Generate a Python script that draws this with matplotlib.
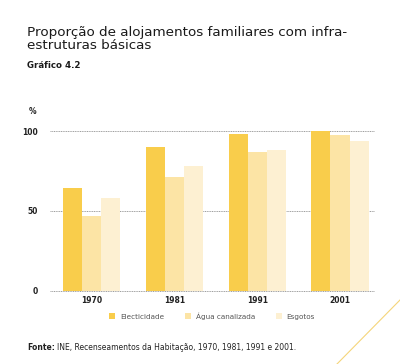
import numpy as np
import matplotlib.pyplot as plt
from matplotlib.lines import Line2D

years = ['1970', '1981', '1991', '2001']
series = ['Electicidade', 'Água canalizada', 'Esgotos']
electricidade = [64, 90, 98, 100]
agua = [47, 71, 87, 97.5]
esgotos = [58, 78, 88, 94]
colors = ['#F9CD4B', '#FCE4A5', '#FDF0D2']

fig = plt.figure(figsize=(4, 3.64), dpi=100)
ax = fig.add_axes([0.125, 0.2014, 0.81, 0.4387])

x = np.arange(len(years))
w = 0.23
handles = []
for i, (vals, c, lab) in enumerate(zip([electricidade, agua, esgotos], colors, series)):
    b = ax.bar(x + (i - 1) * w, vals, width=w, color=c, label=lab, zorder=2)
    handles.append(b)

ax.set_xlim(-0.5, 3.41)
ax.set_ylim(0, 100)
ax.set_yticks([0, 50, 100])
ax.set_xticks(x)
ax.set_xticklabels(years, fontsize=5.5, fontweight='bold', color='#222222')
ax.set_yticklabels(['0', '50', '100'], fontsize=5.5, fontweight='bold', color='#222222')
ax.tick_params(axis='y', length=0, pad=9)
ax.tick_params(axis='x', length=0, pad=4)
for s in ax.spines.values():
    s.set_visible(False)
for v in [0, 50, 100]:
    ax.axhline(v, color='#777777', linestyle=(0, (1.5, 1)), linewidth=0.5, zorder=1, clip_on=False)

fig.text(33 / 400, 1 - 111 / 364, '%', fontsize=5.5, fontweight='bold', color='#222222',
         ha='center', va='center')

# title
fig.text(27 / 400, 1 - 39 / 364, 'Proporção de alojamentos familiares com infra-\nestruturas básicas',
         fontsize=9.7, color='#1a1a1a', ha='left', va='center', linespacing=1.05)
fig.text(27 / 400, 1 - 65 / 364, 'Gráfico 4.2', fontsize=6.2, fontweight='bold',
         color='#1a1a1a', ha='left', va='center')

# legend
fig.legend(handles=handles, labels=series, loc='center', bbox_to_anchor=(0.53, 1 - 316 / 364),
           ncol=3, frameon=False, fontsize=5.2, handlelength=0.9, handleheight=0.9,
           handletextpad=0.6, columnspacing=2.9, labelcolor='#555555')

# source
t = fig.text(27 / 400, 1 - 347 / 364, 'Fonte:', fontsize=5.5, fontweight='bold',
             color='#222222', ha='left', va='center')
fig.canvas.draw()
bb = t.get_window_extent().transformed(fig.transFigure.inverted())
fig.text(bb.x1 + 2 / 400, 1 - 347 / 364, 'INE, Recenseamentos da Habitação, 1970, 1981, 1991 e 2001.',
         fontsize=5.5, color='#222222', ha='left', va='center')

# decorative line
fig.lines.append(Line2D([337 / 400, 1.0], [0.0, 1 - 300 / 364], transform=fig.transFigure,
                        color='#F5D57A', linewidth=0.8))

fig.savefig('out.png', dpi=100)
